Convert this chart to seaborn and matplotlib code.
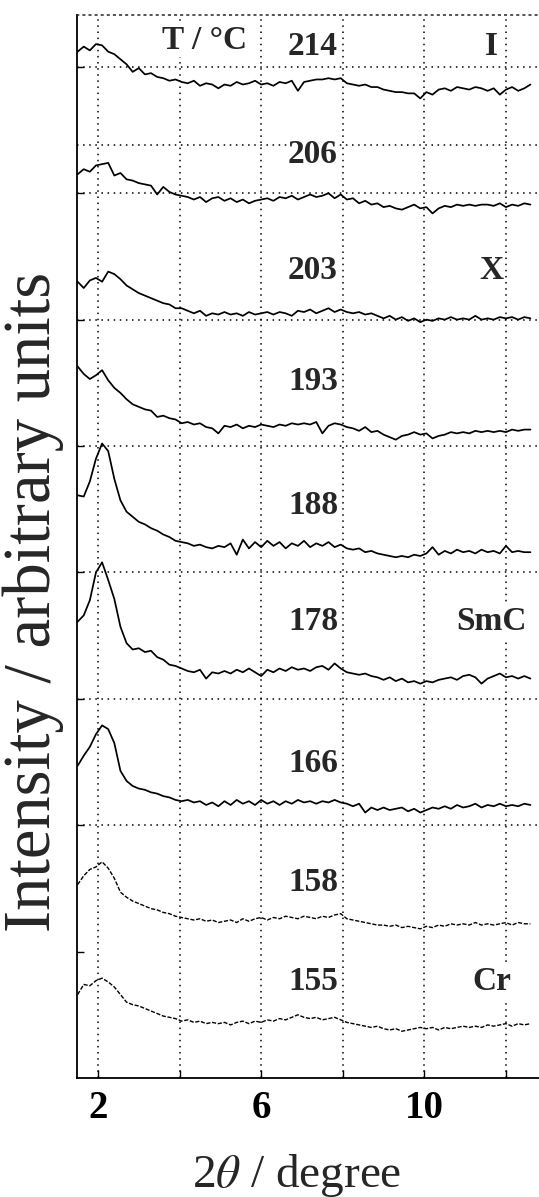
import numpy as np
import pandas as pd
import matplotlib
matplotlib.use("Agg")
import matplotlib.pyplot as plt
import seaborn as sns

# ---------------- data ----------------
two_theta = np.round(np.arange(1.5, 12.61, 0.15), 2)   # scan grid (deg)

temperatures = ["214", "206", "203", "193", "188", "178", "166", "158", "155"]
phase_labels = {"214": "I", "203": "X", "178": "SmC", "155": "Cr"}

i_214 = [812, 816, 813, 818, 817, 812, 810, 806, 802, 796, 799, 794, 795, 792, 791,
         789, 790, 788, 787, 789, 785, 787, 786, 783, 786, 785, 788, 786, 787, 789,
         786, 787, 785, 788, 787, 789, 781, 788, 789, 790, 790, 791, 790, 791, 787,
         786, 785, 786, 784, 784, 782, 781, 780, 780, 779, 779, 775, 780, 778, 782,
         783, 781, 784, 783, 782, 784, 783, 781, 783, 778, 782, 784, 781, 783, 786]
i_206 = [715, 719, 717, 722, 723, 724, 714, 716, 711, 710, 708, 707, 706, 699, 705,
         701, 699, 698, 697, 695, 697, 693, 696, 697, 694, 696, 693, 695, 692, 694,
         695, 696, 694, 697, 696, 698, 695, 697, 699, 697, 698, 700, 696, 699, 695,
         696, 692, 694, 691, 692, 689, 690, 688, 687, 689, 691, 688, 689, 684, 688,
         690, 689, 691, 690, 691, 690, 691, 691, 690, 692, 689, 691, 690, 692, 691]
i_203 = [630, 625, 631, 633, 630, 638, 636, 632, 627, 624, 621, 619, 617, 615, 613,
         612, 609, 609, 607, 605, 607, 603, 605, 604, 606, 604, 605, 603, 606, 604,
         605, 606, 604, 606, 605, 603, 607, 606, 608, 605, 607, 609, 606, 608, 606,
         605, 606, 604, 605, 603, 601, 603, 600, 602, 599, 601, 598, 600, 599, 601,
         600, 602, 600, 601, 600, 603, 600, 601, 600, 602, 601, 602, 600, 602, 601]
i_193 = [563, 557, 553, 556, 560, 552, 546, 542, 537, 533, 531, 529, 528, 523, 524,
         522, 521, 518, 519, 517, 518, 515, 514, 510, 516, 515, 517, 514, 516, 515,
         517, 516, 515, 517, 516, 518, 517, 518, 517, 519, 510, 516, 518, 517, 515,
         514, 512, 515, 511, 512, 509, 507, 505, 508, 509, 511, 509, 510, 506, 508,
         509, 511, 510, 511, 510, 512, 511, 512, 511, 512, 511, 513, 512, 513, 513]
i_188 = [461, 460, 472, 490, 502, 496, 474, 457, 448, 444, 440, 438, 435, 433, 430,
         428, 425, 424, 423, 421, 422, 420, 419, 421, 420, 423, 414, 426, 419, 424,
         420, 425, 421, 424, 419, 423, 421, 425, 420, 423, 421, 424, 420, 422, 419,
         418, 419, 416, 417, 415, 414, 413, 412, 413, 412, 414, 413, 415, 420, 414,
         417, 415, 418, 416, 417, 415, 418, 416, 417, 415, 421, 416, 417, 416, 416]
i_178 = [361, 366, 378, 400, 408, 394, 379, 357, 344, 339, 340, 337, 338, 333, 331,
         327, 326, 324, 322, 321, 323, 316, 321, 320, 322, 320, 323, 321, 324, 321,
         318, 323, 321, 324, 322, 325, 323, 324, 322, 325, 326, 323, 328, 324, 321,
         320, 319, 320, 318, 317, 315, 317, 314, 316, 313, 314, 312, 314, 313, 315,
         316, 317, 315, 318, 319, 317, 312, 316, 318, 320, 317, 318, 316, 318, 316]
i_166 = [247, 255, 262, 272, 279, 276, 265, 243, 235, 231, 229, 228, 226, 225, 223,
         222, 220, 219, 220, 218, 219, 216, 218, 215, 219, 216, 220, 217, 219, 216,
         220, 217, 219, 216, 219, 217, 220, 218, 219, 217, 219, 218, 220, 218, 217,
         215, 217, 210, 214, 212, 214, 212, 213, 214, 211, 213, 210, 212, 214, 213,
         215, 213, 216, 214, 215, 217, 214, 216, 215, 217, 215, 216, 215, 217, 216]
i_158 = [153, 160, 165, 167, 171, 166, 158, 147, 143, 140, 138, 136, 134, 133, 131,
         130, 128, 127, 126, 125, 126, 124, 125, 123, 124, 125, 123, 126, 124, 126,
         127, 125, 127, 126, 128, 127, 126, 128, 127, 126, 128, 127, 129, 130, 126,
         125, 124, 123, 122, 121, 121, 120, 121, 119, 120, 119, 118, 120, 119, 121,
         120, 122, 121, 122, 121, 123, 121, 122, 121, 122, 123, 121, 123, 122, 122]
i_155 = [66, 74, 73, 77, 79, 76, 72, 66, 60, 58, 57, 55, 53, 51, 49,
         48, 47, 45, 46, 44, 45, 43, 44, 43, 44, 42, 44, 45, 43, 45,
         44, 46, 45, 47, 46, 48, 50, 48, 47, 48, 46, 47, 48, 46, 44,
         43, 42, 41, 40, 41, 39, 38, 39, 37, 38, 39, 40, 39, 40, 38,
         40, 39, 40, 41, 40, 41, 40, 42, 41, 42, 43, 41, 43, 42, 43]

intensities = [i_214, i_206, i_203, i_193, i_188, i_178, i_166, i_158, i_155]
for arr in intensities:
    assert len(arr) == len(two_theta), (len(arr), len(two_theta))

df = pd.concat(
    [pd.DataFrame({"two_theta": two_theta, "intensity": vals, "T": t})
     for t, vals in zip(temperatures, intensities)],
    ignore_index=True,
)

# ---------------- style ----------------
sns.set_theme(style="white")
plt.rcParams["font.family"] = ["Liberation Serif", "DejaVu Serif"]
plt.rcParams["mathtext.fontset"] = "stix"

W, H = 539, 1197
fig = plt.figure(figsize=(W / 100, H / 100), dpi=100)
ax = fig.add_axes([77 / W, (H - 1078) / H, 1 - 77 / W, (1078 - 15) / H])

dot = (0, (1, 3))
faint = {"158", "155"}
for t in temperatures:
    sub = df[df["T"] == t]
    sns.lineplot(data=sub, x="two_theta", y="intensity", ax=ax, color="black",
                 lw=1.0 if t in faint else 1.25,
                 linestyle=(0, (3, 1.2)) if t in faint else "-",
                 legend=False, estimator=None)

ax.set_xlim(1.485, 12.81)
ax.set_ylim(0, 841)

# grid
ax.set_xticks([2, 4, 6, 8, 10, 12])
ax.set_xticklabels(["2", "", "6", "", "10", ""], fontweight="bold")
ax.set_yticks([100, 200, 300, 400, 500, 600, 700, 800])
ax.set_yticklabels([])
for xv in [2, 4, 6, 8, 10, 12]:
    ax.axvline(xv, color="black", lw=1.1, ls=dot, zorder=0)
for yv in [200, 300, 400, 500, 600, 700, 738, 800]:
    ax.axhline(yv, color="black", lw=1.1, ls=dot, zorder=0)

ax.tick_params(axis="x", direction="in", length=6, width=1.0, pad=9,
               labelsize=28, colors="black", bottom=True)
ax.tick_params(axis="y", direction="in", length=5, width=1.0, left=True,
               colors="black")
ax.spines["right"].set_visible(False)
ax.spines["top"].set_linestyle(dot)
ax.spines["top"].set_linewidth(1.1)
for s in ["left", "bottom"]:
    ax.spines[s].set_linewidth(1.3)
    ax.spines[s].set_color("black")
ax.set_xlabel("")
ax.set_ylabel("")

# labels
box = dict(facecolor="white", edgecolor="none", pad=1.0)
label_pos = {"214": 816, "206": 731, "203": 639, "193": 551, "188": 453,
             "178": 361, "166": 249, "158": 155, "155": 76}
for t in temperatures:
    ax.text(7.27, label_pos[t], t, ha="center", va="center", fontsize=24,
            fontweight="bold", bbox=box, zorder=3)
    if t in phase_labels:
        ax.text(11.65, label_pos[t], phase_labels[t], ha="center", va="center",
                fontsize=24, fontweight="bold", bbox=box, zorder=3)
ax.text(4.6, 821, "T / °C", ha="center", va="center", fontsize=24,
        fontweight="bold", bbox=box, zorder=3)

fig.text(33 / W, 1 - 602 / H, "Intensity / arbitrary units", rotation=90,
         ha="center", va="center", fontsize=48)
fig.text(297 / W, (H - 1187) / H, r"2$\theta$ / degree", ha="center",
         va="baseline", fontsize=34)

fig.savefig("out.png", dpi=100)
